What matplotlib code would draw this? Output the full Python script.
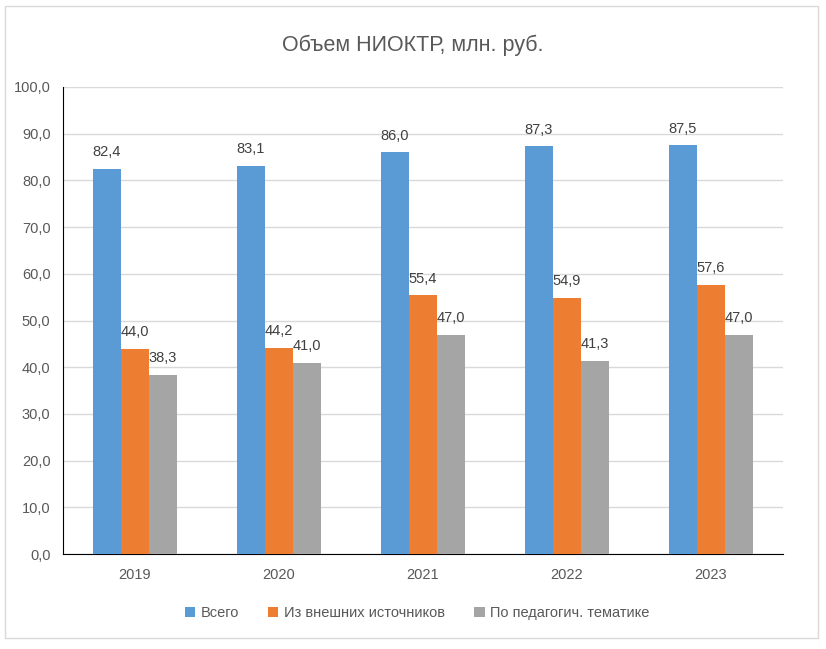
import numpy as np
import matplotlib.pyplot as plt
from matplotlib.patches import Rectangle

years = ['2019', '2020', '2021', '2022', '2023']
vsego = [82.4, 83.1, 86.0, 87.3, 87.5]
vneshnie = [44.0, 44.2, 55.4, 54.9, 57.6]
pedagog = [38.3, 41.0, 47.0, 41.3, 47.0]
series_names = ['Всего', 'Из внешних источников', 'По педагогич. тематике']
colors = ['#5B9BD5', '#ED7D31', '#A5A5A5']

plt.rcParams['font.family'] = ['Liberation Sans', 'DejaVu Sans']

fig = plt.figure(figsize=(8.26, 6.49), dpi=100)
fig.patches.append(Rectangle((5/826, 1 - 638/649), 813/826, 632/649,
                             transform=fig.transFigure, fill=False,
                             edgecolor='#D9D9D9', linewidth=1))
ax = fig.add_axes([63/826, 1 - 554/649, 720/826, 467/649])

x = np.arange(len(years))
w = 0.195
for k, (vals, name, c) in enumerate(zip([vsego, vneshnie, pedagog], series_names, colors)):
    pos = x + (k - 1) * w
    ax.bar(pos, vals, w, color=c, label=name, zorder=3)
    for p, v in zip(pos, vals):
        ax.annotate(f'{v:.1f}'.replace('.', ','), (p, v), xytext=(0, 7),
                    textcoords='offset points', ha='center', va='bottom',
                    fontsize=10.5, color='#404040')

ax.set_xlim(-0.5, len(years) - 0.5)
ax.set_ylim(0, 100)
ax.set_yticks(np.arange(0, 101, 10))
ax.set_yticklabels([f'{v:.1f}'.replace('.', ',') for v in np.arange(0, 101, 10)])
ax.set_xticks(x)
ax.set_xticklabels(years)
ax.tick_params(length=0, labelsize=10.5, colors='#595959', pad=10)
ax.tick_params(axis='y', pad=9)
ax.grid(axis='y', color='#D9D9D9', linewidth=1, zorder=0)
for s in ['top', 'right']:
    ax.spines[s].set_visible(False)
ax.spines['left'].set_color('black')
ax.spines['bottom'].set_color('black')

fig.text(0.5, 1 - 45/649, 'Объем НИОКТР, млн. руб.', ha='center', va='center',
         fontsize=15.5, color='#595959')
fig.legend(loc='center', bbox_to_anchor=(0.505, 1 - 613/649), ncol=3, frameon=False,
           fontsize=10.5, handlelength=0.7, handleheight=0.7, columnspacing=2.0,
           handletextpad=0.4, labelcolor='#595959')

fig.savefig('out.png', dpi=100)
